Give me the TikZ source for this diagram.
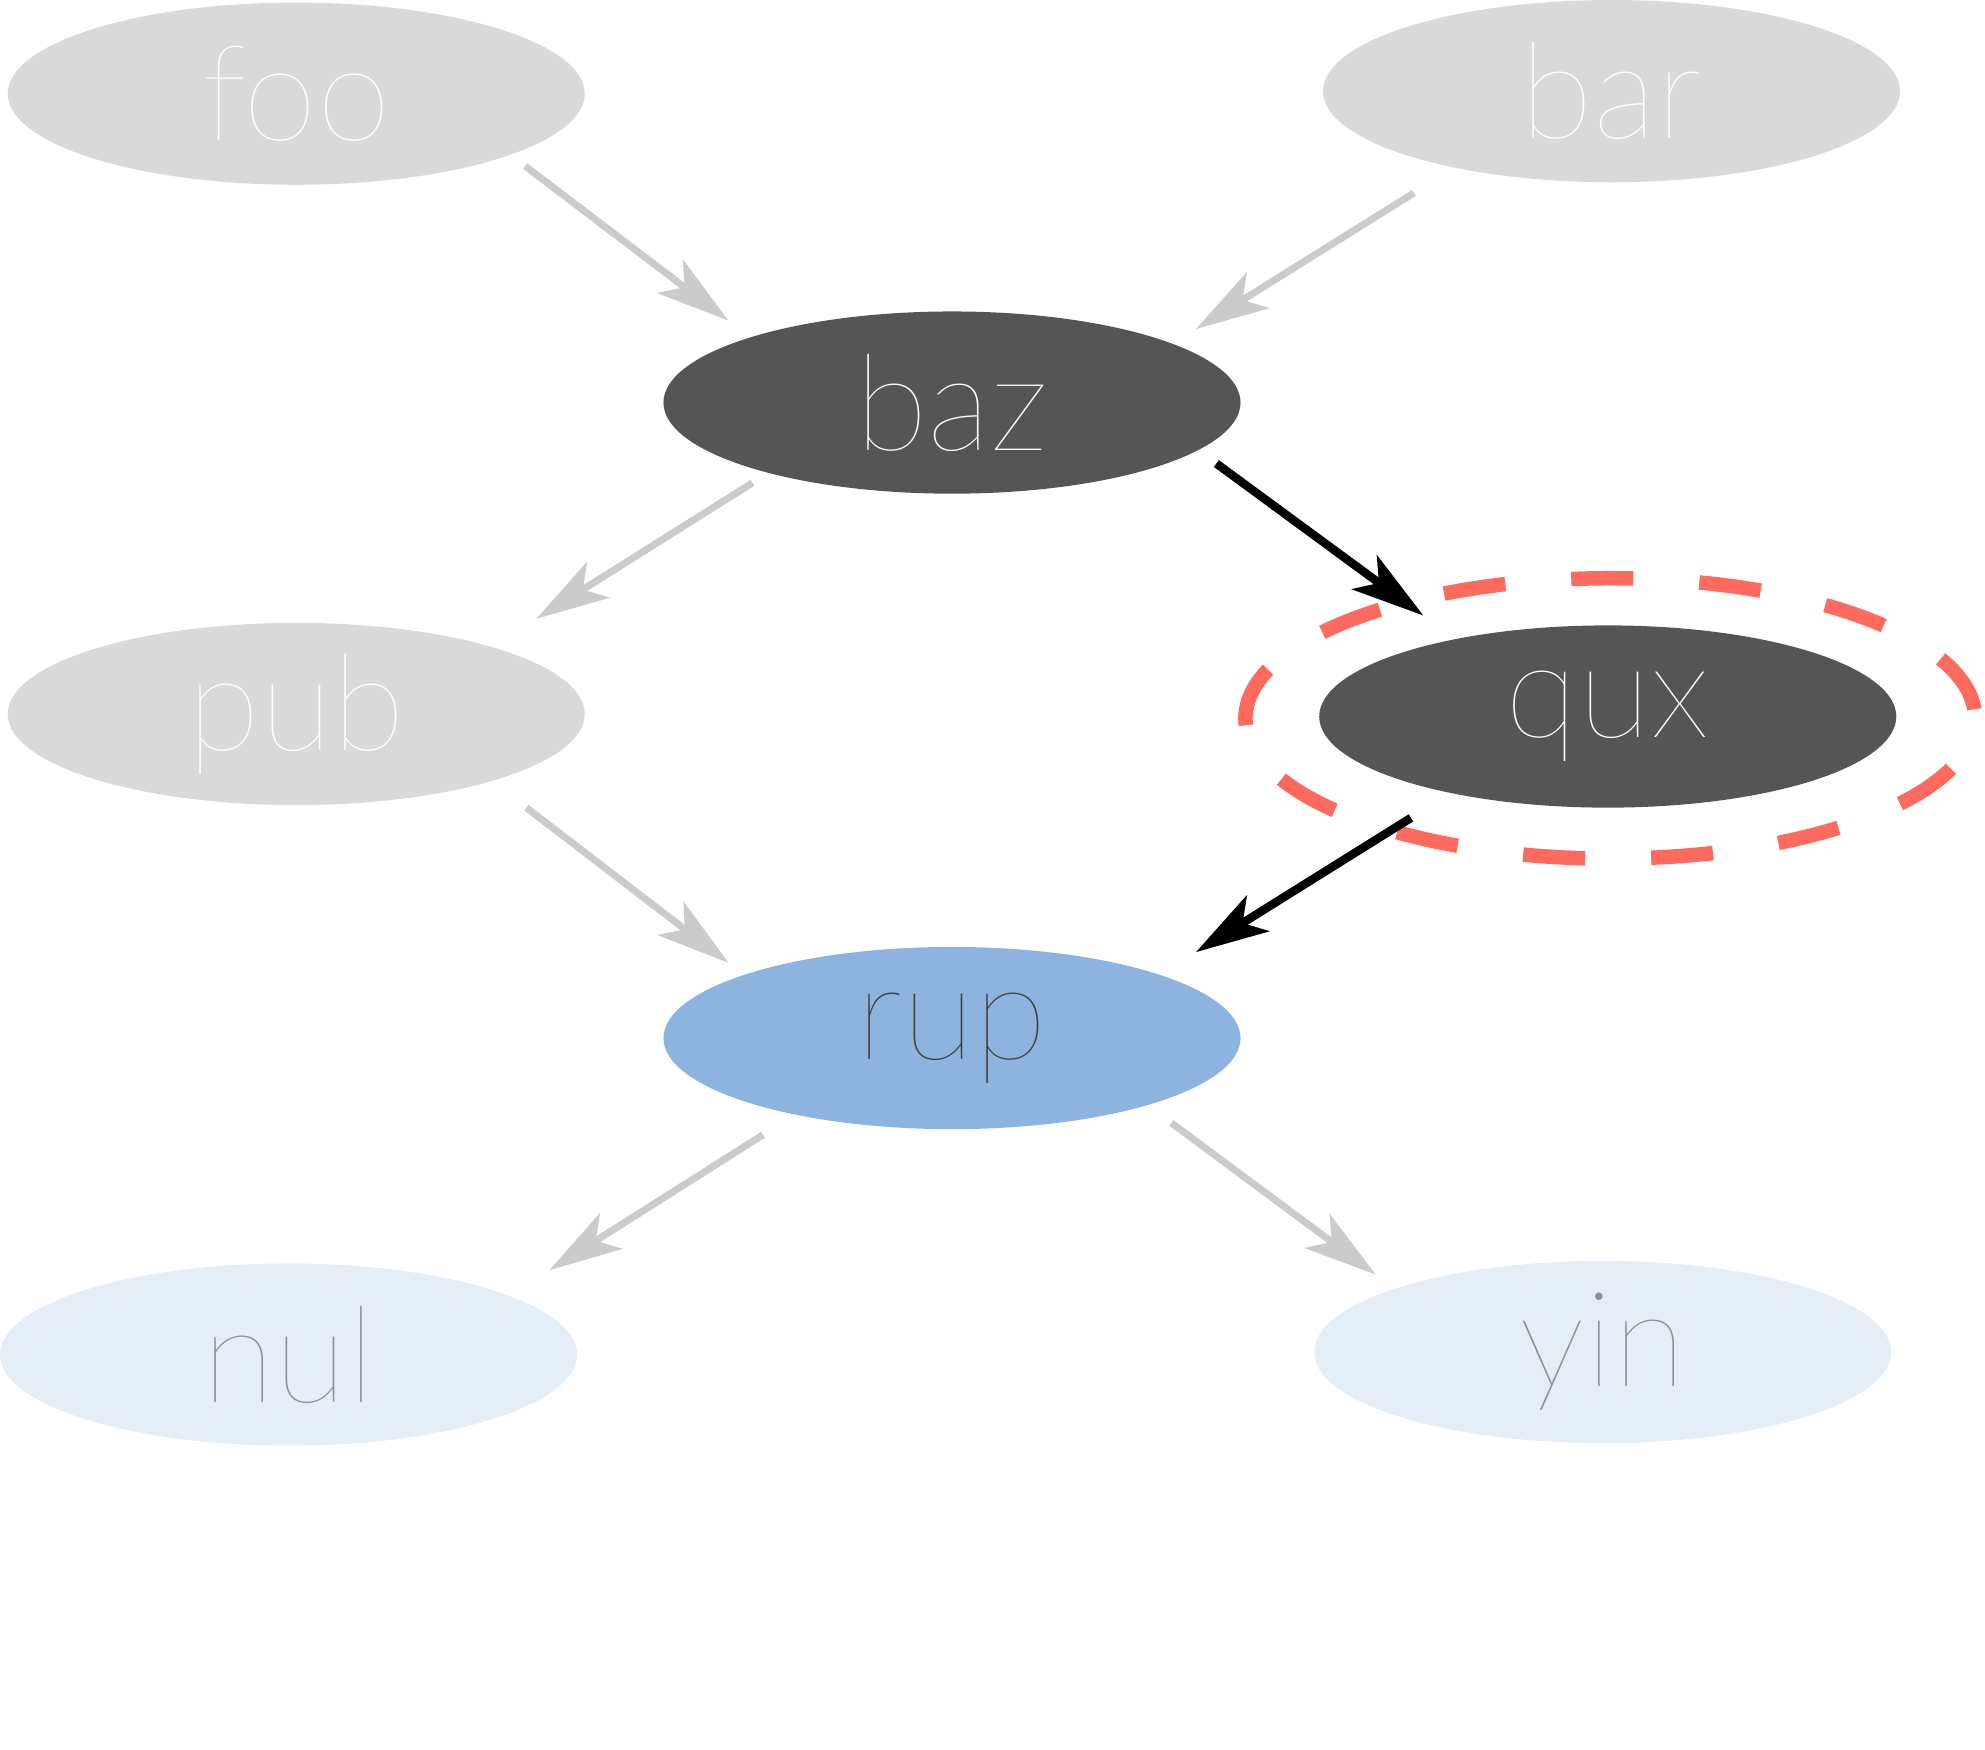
\documentclass[tikz,border=0pt]{standalone}
\usepackage{fontspec}
\IfFontExistsTF{Lato Hairline}{\newfontfamily\labelfont{Lato Hairline}}{%
\IfFontExistsTF{Lato-Hairline.ttf}{\newfontfamily\labelfont{Lato-Hairline.ttf}}{%
\IfFontExistsTF{Lato Thin}{\newfontfamily\labelfont{Lato Thin}}{%
\IfFontExistsTF{Lato-Thin.ttf}{\newfontfamily\labelfont{Lato-Thin.ttf}}{%
\IfFontExistsTF{Lato Light}{\newfontfamily\labelfont{Lato Light}}{%
\newfontfamily\labelfont{Lato}}}}}}
\usetikzlibrary{shapes.geometric, arrows.meta}

\definecolor{fadedgray}{HTML}{D9D9D9}
\definecolor{activegray}{HTML}{555555}
\definecolor{currentblue}{HTML}{8CB4DF}
\definecolor{currenttext}{HTML}{404040}
\definecolor{paleblue}{HTML}{E5EDF7}
\definecolor{paletext}{HTML}{8C9096}
\definecolor{ringred}{HTML}{FF6A5E}
\definecolor{linkgray}{HTML}{CBCBCB}

\begin{document}
\begin{tikzpicture}[
    x=0.01266cm, y=-0.01266cm, % one unit per reference pixel, y downwards
    >={Stealth[length=0.73cm, width=0.42cm, inset=0.18cm]},
    % Styles
    state/.style={ % Any node of the graph
        ellipse,
        minimum width=5.773cm,
        minimum height=1.823cm,
        inner sep=0pt,
        font=\labelfont\fontsize{38}{42}\selectfont
    },
    faded/.style={state, fill=fadedgray, text=white},
    active/.style={state, fill=activegray, text=white},
    current/.style={state, fill=currentblue, text=currenttext},
    pale/.style={state, fill=paleblue, text=paletext},
    focusring/.style={ % Dashed ring round the selected node
        ellipse,
        draw=ringred,
        line width=0.145cm,
        dash pattern=on 0.62cm off 0.662cm,
        dash phase=1.19cm,
        minimum width=7.30cm,
        minimum height=2.805cm,
        inner sep=0pt
    },
    link/.style={
        ->,
        line width=2pt,
        color=linkgray
    },
    hotlink/.style={ % Path that was taken
        link,
        line width=2.4pt,
        color=black
    }
]
    \useasboundingbox (0,0) rectangle (1568,1381.6);

    % Graph nodes
    \node[faded] (foo) at (234,74) {foo};
    \node[faded] (bar) at (1273,72) {bar};
    \node[active] (baz) at (752,318) {baz};
    \node[faded] (pub) at (234,564) {pub};
    \node[active] (qux) at (1270,566) {qux};
    \node[current] (rup) at (752,820) {rup};
    \node[pale] (nul) at (228,1070) {nul};
    \node[pale] (yin) at (1266,1068) {yin};

    % Highlight round qux
    \node[focusring] (quxring) at (1272,567.5) {};

    % Graph edges
    \draw[link, shorten <=0.18cm, shorten >=0.27cm] (foo.-16.6) -- (baz.162.9);
    \draw[link, shorten <=0.47cm, shorten >=0.27cm] (bar.-154.4) -- (baz.15.0);
    \draw[link, shorten <=0.18cm, shorten >=0.52cm] (baz.-159.2) -- (pub.19.0);
    \draw[link, shorten <=0.43cm, shorten >=0.19cm] (pub.-19.9) -- (rup.163.8);
    \draw[link, shorten <=0.37cm, shorten >=0.47cm] (rup.-154.9) -- (nul.15.9);
    \draw[link, shorten <=0.29cm, shorten >=0.23cm] (rup.-19.3) -- (yin.163.5);

    % Taken path
    \draw[hotlink, shorten <=0.22cm, shorten >=0.39cm] (baz.-11.0) -- (qux.153.9);
    \draw[hotlink, shorten <=0.46cm, shorten >=0.42cm] (qux.-154.7) -- (rup.17.2);
\end{tikzpicture}
\end{document}
